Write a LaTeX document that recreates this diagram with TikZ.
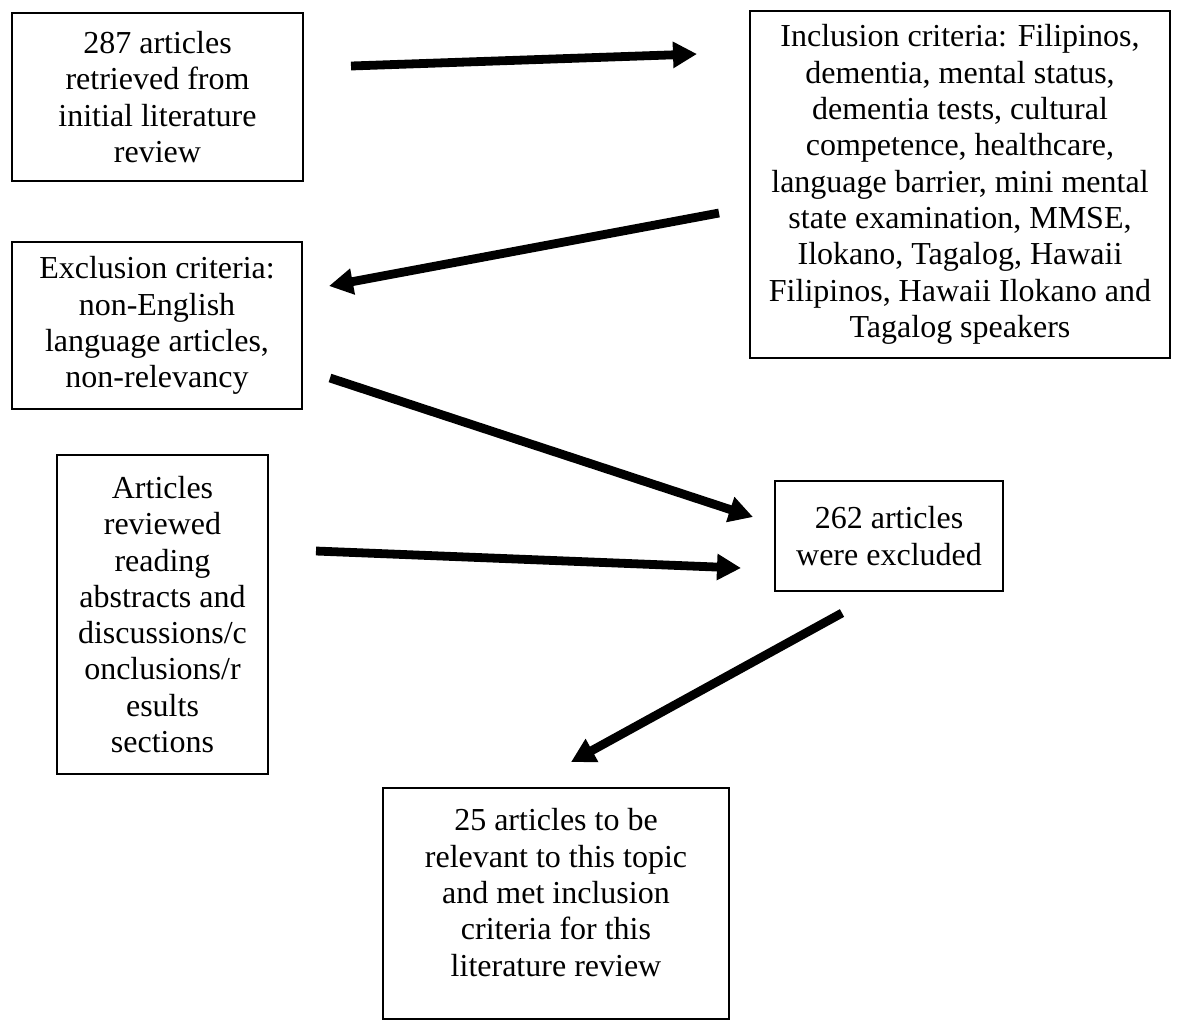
\documentclass[tikz,border=0pt]{standalone}
\usepackage{fontspec}
\setmainfont{Liberation Serif}
\usetikzlibrary{arrows.meta}

\begin{document}
\begin{tikzpicture}[
  x=0.5pt, y=-0.5pt,
  box/.style={draw, line width=0.8pt, align=center, inner sep=0pt,
    font=\fontsize{16}{18.15}\selectfont},
  arr/.style={line width=4.4pt, -{Triangle[length=12pt, width=12.5pt]}},
]
\useasboundingbox (0,0) rectangle (1177,1025);

\node (found) [box, minimum width=145.5pt, minimum height=84pt] at (157.5, 97)
  {287 articles\\ retrieved from\\ initial literature\\ review};
\node (incl) [box, minimum width=210pt, minimum height=173.5pt] at (960, 184.5)
  {Inclusion criteria: Filipinos,\\ dementia, mental status,\\ dementia tests, cultural\\
   competence, healthcare,\\ language barrier, mini mental\\ state examination, MMSE,\\
   Ilokano, Tagalog, Hawaii\\ Filipinos, Hawaii Ilokano and\\ Tagalog speakers};
\node (excl) [box, minimum width=145pt, minimum height=83.5pt] at (157, 325.5)
  {Exclusion criteria:\\ non-English\\ language articles,\\ non-relevancy};
\node (rev) [box, minimum width=105.5pt, minimum height=159.5pt] at (162.5, 614.5)
  {Articles\\ reviewed\\ reading\\ abstracts and\\ discussions/c\\ onclusions/r\\ esults\\ sections};
\node (excd) [box, minimum width=114pt, minimum height=55pt] at (889, 536)
  {262 articles\\ were excluded};
\node (final) [box, minimum width=173pt, minimum height=115.5pt] at (556, 903.5)
  {25 articles to be\\ relevant to this topic\\ and met inclusion\\ criteria for this\\ literature review\\[-7pt]};

% arrow ends
\coordinate (s1) at (351, 66);  \coordinate (e1) at (697, 54);
\coordinate (s2) at (719, 213); \coordinate (e2) at (329, 286);
\coordinate (s3) at (330, 378); \coordinate (e3) at (753, 517);
\coordinate (s4) at (316, 551); \coordinate (e4) at (741, 568);
\coordinate (s5) at (842, 613); \coordinate (e5) at (571, 762);

\foreach \i in {1,...,5} {
  \draw[arr] (s\i) -- (e\i);
}
\end{tikzpicture}
\end{document}
